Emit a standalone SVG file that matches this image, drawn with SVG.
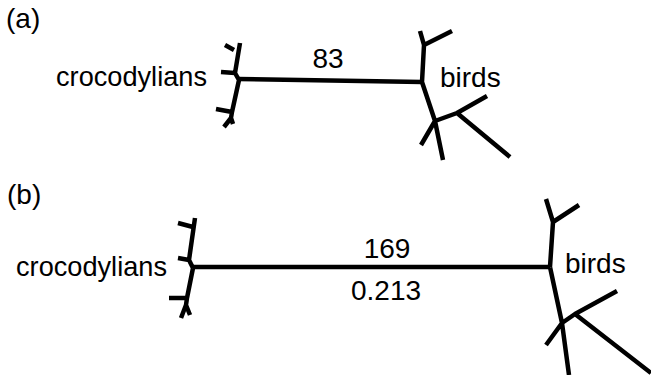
<svg xmlns="http://www.w3.org/2000/svg" width="651" height="375" viewBox="0 0 651 375">
<style>
.br{fill:none;stroke:#000;stroke-width:4.5;stroke-linecap:butt;stroke-linejoin:round}
.t{font-family:"Liberation Sans",Arial,Helvetica,sans-serif;font-size:28px;fill:#000}
.m{text-anchor:middle}
</style>
<rect width="651" height="375" fill="#fff"/>
<text class="t" x="6" y="28">(a)</text>
<text class="t" x="7" y="204">(b)</text>
<g id="crocodylians-a">
<text class="t" x="56" y="86" textLength="151" lengthAdjust="spacingAndGlyphs">crocodylians</text>
<path class="br" d="M239,80 L235,73 L240,43 M234,50 L225,45 M235,73 L221,72 M239,80 L232,112 L216,109 M232,112 L231,118 L224,127 M231,118 L233,124"/>
</g>
<g id="birds-a">
<text class="t" x="440" y="87">birds</text>
<path class="br" d="M422,82 L424,45 L420,31 M424,45 L452,31 M422,82 L435,121 L443,160 M435,121 L421,145 M435,121 L457,113 L487,96 M457,113 L510,157"/>
</g>
<g id="crocodylians-b">
<text class="t" x="16" y="276" textLength="151" lengthAdjust="spacingAndGlyphs">crocodylians</text>
<path class="br" d="M193,268 L189,260 L195,218 M193,227 L178,223 M189,260 L178,258 M193,268 L187,298 L169,298 M187,298 L186,305 L181,318 M186,305 L190,315"/>
</g>
<g id="birds-b">
<text class="t" x="565" y="273">birds</text>
<path class="br" d="M550,267 L553,222 L546,199 M553,222 L579,205 M550,267 L562,323 L569,375 M562,323 L546,345 M562,323 L575,314 L617,291 M575,314 L651,373"/>
</g>
<g id="connectors">
<path class="br" d="M238,79 L422,82"/>
<text class="t m" x="328" y="68">83</text>
<path class="br" d="M193,267 L550,267"/>
<text class="t m" x="387" y="258">169</text>
<text class="t m" x="386" y="300">0.213</text>
</g>
</svg>
